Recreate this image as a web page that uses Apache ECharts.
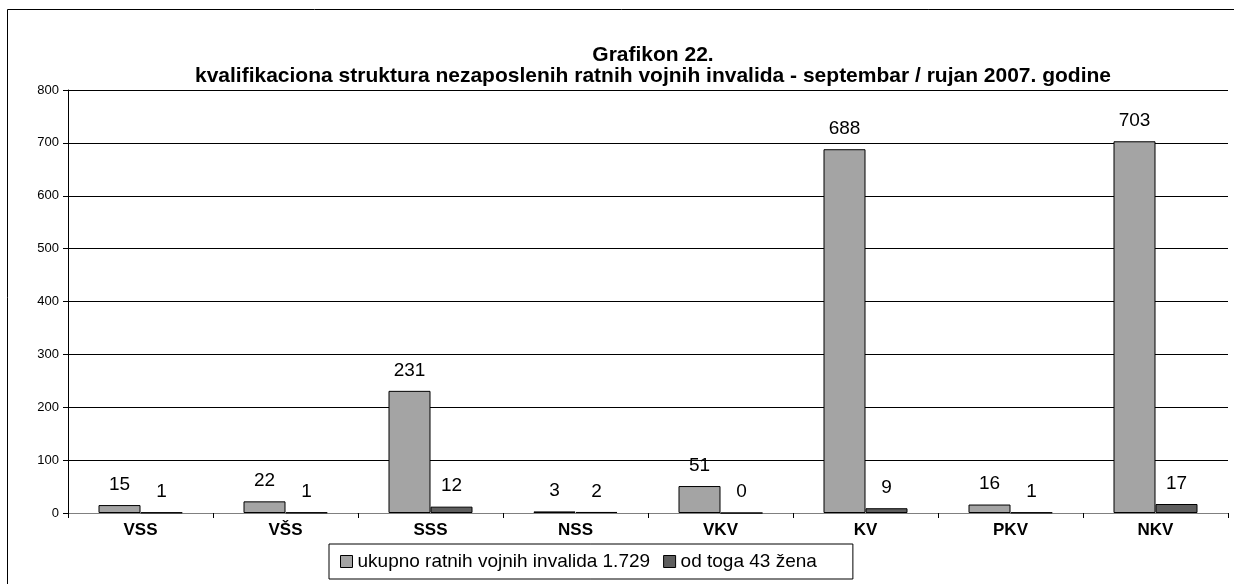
<!DOCTYPE html>
<html>
<head>
<meta charset="utf-8">
<script src="https://cdn.jsdelivr.net/npm/echarts@6/dist/echarts.min.js"></script>
<style>
  html, body { margin: 0; padding: 0; background: #fff; }
  #chart { width: 1234px; height: 584px; }
</style>
</head>
<body>
<div id="chart"></div>
<script>
var categories = ['VSS', 'VŠS', 'SSS', 'NSS', 'VKV', 'KV', 'PKV', 'NKV'];
var ukupno = [15, 22, 231, 3, 51, 688, 16, 703];
var zene = [1, 1, 12, 2, 0, 9, 1, 17];
var yTicks = { min: 0, max: 800, step: 100 };

var myChart = echarts.init(document.getElementById('chart'));
var font = 'Liberation Sans, Arial, sans-serif';

option = {
    animation: false,
    textStyle: { fontFamily: font },
    graphic: [{
        type: 'rect',
        shape: { x: 7.5, y: 9.5, width: 1240, height: 600 },
        style: { fill: 'none', stroke: '#000', lineWidth: 1 },
        z: -1
    }],
    title: {
        text: 'Grafikon 22.\nkvalifikaciona struktura nezaposlenih ratnih vojnih invalida - septembar / rujan 2007. godine',
        left: 648,
        top: 40,
        textAlign: 'center',
        textStyle: {
            fontFamily: font,
            fontSize: 21,
            fontWeight: 'bold',
            color: '#000',
            lineHeight: 21
        }
    },
    legend: {
        left: 329,
        top: 544,
        padding: [8, 36, 8, 11],
        itemWidth: 12,
        itemHeight: 12,
        itemGap: 13,
        borderColor: '#000',
        borderWidth: 1,
        textStyle: { fontFamily: font, fontSize: 19, color: '#000' },
        data: [
            { name: 'ukupno ratnih vojnih invalida 1.729', icon: 'rect', itemStyle: { borderColor: '#000', borderWidth: 1 } },
            { name: 'od toga 43 žena', icon: 'rect', itemStyle: { borderColor: '#000', borderWidth: 1 } }
        ]
    },
    grid: {
        left: 68,
        right: 6,
        top: 90,
        bottom: 71
    },
    xAxis: {
        type: 'category',
        data: categories,
        axisLine: { lineStyle: { color: '#808080', width: 1 } },
        axisTick: { show: true, length: 5, lineStyle: { color: '#000' } },
        axisLabel: {
            margin: 9,
            fontFamily: font,
            fontSize: 17,
            fontWeight: 'bold',
            color: '#000'
        }
    },
    yAxis: {
        type: 'value',
        min: yTicks.min,
        max: yTicks.max,
        interval: yTicks.step,
        axisLine: { show: true, lineStyle: { color: '#000' } },
        axisTick: { show: true, length: 5, lineStyle: { color: '#000' } },
        axisLabel: { fontFamily: font, fontSize: 13, color: '#000', margin: 9 },
        splitLine: { lineStyle: { color: '#000', width: 1 } }
    },
    series: [{
        name: 'ukupno ratnih vojnih invalida 1.729',
        type: 'bar',
        barWidth: 42,
        barGap: '0%',
        data: ukupno,
        itemStyle: { color: '#a4a4a4', borderColor: '#000', borderWidth: 1 },
        label: {
            show: true,
            position: 'top',
            distance: 11,
            fontFamily: font,
            fontSize: 19,
            color: '#000'
        }
    }, {
        name: 'od toga 43 žena',
        type: 'bar',
        barWidth: 42,
        barGap: '0%',
        data: zene,
        itemStyle: { color: '#5e5e5e', borderColor: '#000', borderWidth: 1 },
        label: {
            show: true,
            position: 'top',
            distance: 11,
            fontFamily: font,
            fontSize: 19,
            color: '#000'
        }
    }]
};
myChart.setOption(option);
</script>
</body>
</html>
